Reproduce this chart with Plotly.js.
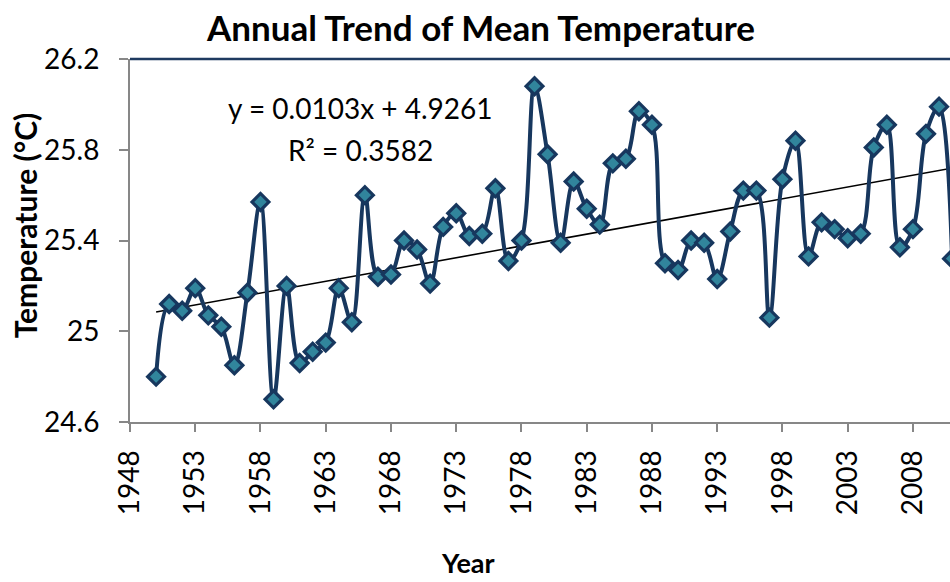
<!DOCTYPE html>
<html>
<head>
<meta charset="utf-8">
<script src="https://cdn.plot.ly/plotly-3.0.1.min.js"></script>
<style>
  html, body { margin: 0; padding: 0; background: #ffffff; }
  #chart { width: 950px; height: 582px; }
</style>
</head>
<body>
<div id="chart"></div>
<script>
// ---- data ----
const years = [1950,1951,1952,1953,1954,1955,1956,1957,1958,1959,
               1960,1961,1962,1963,1964,1965,1966,1967,1968,1969,
               1970,1971,1972,1973,1974,1975,1976,1977,1978,1979,
               1980,1981,1982,1983,1984,1985,1986,1987,1988,1989,
               1990,1991,1992,1993,1994,1995,1996,1997,1998,1999,
               2000,2001,2002,2003,2004,2005,2006,2007,2008,2009,
               2010,2011];
const meanTemp = [24.80,25.12,25.09,25.19,25.07,25.02,24.85,25.17,25.57,24.70,
                  25.20,24.86,24.91,24.95,25.19,25.04,25.60,25.24,25.25,25.40,
                  25.36,25.21,25.46,25.52,25.42,25.43,25.63,25.31,25.40,26.08,
                  25.78,25.39,25.66,25.54,25.47,25.74,25.76,25.97,25.91,25.30,
                  25.27,25.40,25.39,25.23,25.44,25.62,25.62,25.06,25.67,25.84,
                  25.33,25.48,25.45,25.41,25.43,25.81,25.91,25.37,25.45,25.87,
                  25.99,25.32];
const xTickVals = [1948,1953,1958,1963,1968,1973,1978,1983,1988,1993,1998,2003,2008];
const xTickText = ["1948","1953","1958","1963","1968","1973","1978","1983","1988","1993","1998","2003","2008"];
const yTickVals = [24.6,25.0,25.4,25.8,26.2];
const yTickText = ["24.6","25","25.4","25.8","26.2"];
const equationText = "y = 0.0103x + 4.9261";
const r2Text = "R² = 0.3582";

// ---- least-squares trend line from the data ----
const n = years.length;
const mx = years.reduce((a,b)=>a+b,0)/n;
const my = meanTemp.reduce((a,b)=>a+b,0)/n;
let sxy = 0, sxx = 0;
for (let i = 0; i < n; i++) { sxy += (years[i]-mx)*(meanTemp[i]-my); sxx += (years[i]-mx)*(years[i]-mx); }
const slope = sxy/sxx, intercept = my - slope*mx;
const trendX = [years[0], years[n-1]];
const trendY = trendX.map(x => intercept + slope*x);

const FONT = "Lato, 'Open Sans', sans-serif";
const navy = "#17375E";

const traces = [
  {
    x: trendX, y: trendY, type: "scatter", mode: "lines",
    line: { color: "#000000", width: 1.6 }, hoverinfo: "skip", showlegend: false
  },
  {
    x: years, y: meanTemp, type: "scatter", mode: "lines+markers",
    line: { color: navy, width: 4, shape: "spline", smoothing: 1 },
    marker: { symbol: "diamond", size: 13, color: "#31859C", line: { color: navy, width: 3.2 } },
    cliponaxis: true, showlegend: false
  }
];

const layout = {
  width: 950, height: 582,
  margin: { l: 130, r: 0, t: 59, b: 160 },
  paper_bgcolor: "#ffffff", plot_bgcolor: "#ffffff",
  font: { family: FONT, color: "#000000" },
  showlegend: false,
  title: {
    text: "<b>Annual Trend of Mean Temperature</b>",
    font: { family: FONT, size: 35, color: "#000000" },
    x: 481/950, xref: "container", xanchor: "center",
    y: 1 - 29/582, yref: "container", yanchor: "middle"
  },
  xaxis: {
    range: [1948, 2010.84],
    tickmode: "array", tickvals: xTickVals, ticktext: xTickText,
    tickangle: -90,
    ticks: "outside", ticklen: 8, tickwidth: 2, tickcolor: "#878787",
    showline: true, linecolor: "#878787", linewidth: 2,
    showgrid: false, zeroline: false,
    tickfont: { family: FONT, size: 28, color: "#000000" },
    ticklabelstandoff: 7
  },
  yaxis: {
    range: [24.6, 26.2],
    tickmode: "array", tickvals: yTickVals, ticktext: yTickText,
    ticks: "outside", ticklen: 9, tickwidth: 2, tickcolor: "#878787",
    showline: true, linecolor: "#878787", linewidth: 2,
    showgrid: false, zeroline: false,
    tickfont: { family: FONT, size: 28, color: "#000000" },
    ticklabelstandoff: 14
  },
  shapes: [
    { type: "line", xref: "paper", yref: "paper", x0: 0, x1: 1, y0: 1, y1: 1,
      line: { color: "#1F3A60", width: 2.5 } }
  ],
  annotations: [
    { text: equationText, xref: "paper", yref: "paper",
      x: (360-130)/820, y: (421.7-108)/363, xanchor: "center", yanchor: "middle",
      showarrow: false, font: { family: FONT, size: 28, color: "#000000" } },
    { text: r2Text, xref: "paper", yref: "paper",
      x: (360-130)/820, y: (421.7-150)/363, xanchor: "center", yanchor: "middle",
      showarrow: false, font: { family: FONT, size: 28, color: "#000000" } },
    { text: "<b>Year</b>", xref: "paper", yref: "paper",
      x: (468-130)/820, y: -(562-421.7)/363, xanchor: "center", yanchor: "middle",
      showarrow: false, font: { family: FONT, size: 27, color: "#000000" } },
    { text: "<b>Temperature (°C)</b>", xref: "paper", yref: "paper",
      x: -(130-25)/820, y: (421.7-225)/363, xanchor: "center", yanchor: "middle",
      textangle: -90,
      showarrow: false, font: { family: FONT, size: 30, color: "#000000" } }
  ]
};

Plotly.newPlot("chart", traces, layout, { displayModeBar: false, staticPlot: true });
</script>
</body>
</html>
